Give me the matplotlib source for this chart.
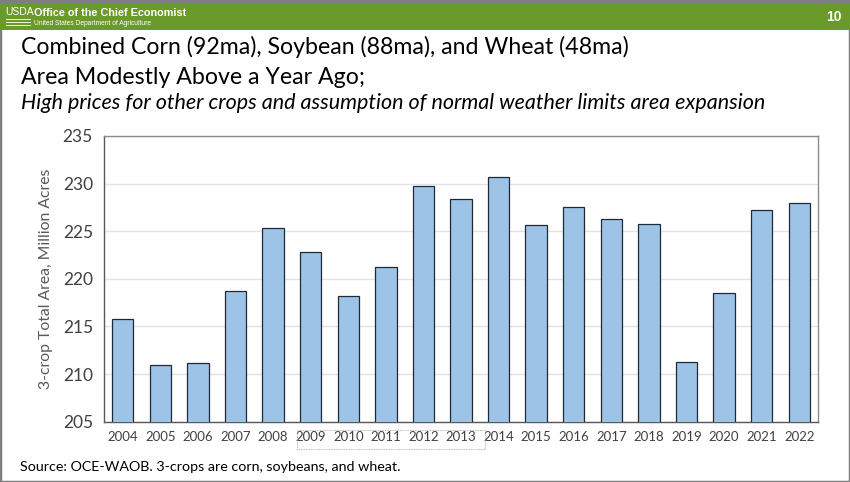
import matplotlib
matplotlib.use("Agg")
import matplotlib.pyplot as plt
from matplotlib.patches import Rectangle

years = ["2004", "2005", "2006", "2007", "2008", "2009", "2010", "2011", "2012", "2013",
         "2014", "2015", "2016", "2017", "2018", "2019", "2020", "2021", "2022"]
area = [215.8, 211.0, 211.2, 218.7, 225.3, 222.8, 218.2, 221.2, 229.7, 228.4,
        230.7, 225.7, 227.5, 226.3, 225.8, 211.3, 218.5, 227.2, 228.0]
yticks = [205, 210, 215, 220, 225, 230, 235]

FONT = "Lato"
plt.rcParams['font.family'] = [FONT, 'DejaVu Sans']

fig = plt.figure(figsize=(8.5, 4.82), dpi=100)
fig.patch.set_facecolor("white")

# frame and header
fig.add_artist(Rectangle((0, 0), 1, 1, transform=fig.transFigure, facecolor="none",
                         edgecolor="#7f7f7f", lw=2.5))
fig.add_artist(Rectangle((0, 1 - 30/482), 1, 27/482, transform=fig.transFigure,
                         facecolor="#6A9A2A", edgecolor="none"))
fig.add_artist(Rectangle((0, 1 - 3/482), 1, 3/482, transform=fig.transFigure,
                         facecolor="#7f7f7f", edgecolor="none"))
fig.text(5/850, 1 - 12/482, "USDA", color="white", fontsize=7.5, va="center", ha="left",
         family=["Liberation Sans Narrow", "Liberation Sans"])
for yy in (20, 23, 26):
    fig.add_artist(Rectangle((6/850, 1 - yy/482), 25/850, 1/482, transform=fig.transFigure,
                             facecolor="white", edgecolor="none", alpha=0.85))
fig.text(34/850, 1 - 13.5/482, "Office of the Chief Economist", color="white", fontsize=7.8,
         fontweight="bold", va="center", ha="left", family="Liberation Sans")
fig.text(34/850, 1 - 23.5/482, "United States Department of Agriculture", color="white",
         fontsize=4.8, va="center", ha="left", family="Liberation Sans")
fig.text(842/850, 1 - 17/482, "10", color="white", fontsize=10, fontweight="bold",
         va="center", ha="right", family="Liberation Sans")

fig.text(21/850, 1 - 47/482, "Combined Corn (92ma), Soybean (88ma), and Wheat (48ma)",
         fontsize=16.7, va="center", ha="left", color="black")
fig.text(21/850, 1 - 77/482, "Area Modestly Above a Year Ago;",
         fontsize=16.7, va="center", ha="left", color="black")
fig.text(21/850, 1 - 103/482,
         "High prices for other crops and assumption of normal weather limits area expansion",
         fontsize=15.5, style="italic", va="center", ha="left", color="black")

ax = fig.add_axes([104/850, 1 - 421.7/482, (818 - 104)/850, (421.7 - 136)/482])
x = list(range(len(years)))
ax.bar(x, area, width=0.57, color="#9DC3E6", edgecolor="#1f2a36", linewidth=0.9, zorder=3)
ax.set_xlim(-0.5, len(years) - 0.5)
ax.set_ylim(205, 235)
ax.set_yticks(yticks)
ax.set_yticklabels([str(v) for v in yticks], fontsize=12.5, color="#404040")
ax.set_xticks(x)
ax.set_xticklabels(years, fontsize=9.5, color="#404040")
ax.tick_params(axis="both", length=0, pad=8)
ax.tick_params(axis="x", pad=7)
ax.grid(axis="y", color="#e3e3e3", lw=1, zorder=0)
for s in ["top", "right"]:
    ax.spines[s].set_color("#8c8c8c")
    ax.spines[s].set_linewidth(1.0)
for s in ["left", "bottom"]:
    ax.spines[s].set_color("#595959")
    ax.spines[s].set_linewidth(1.0)
ax.set_ylabel("3-crop Total Area, Million Acres", fontsize=11.3, color="#595959", labelpad=7)

# dotted selection box around some tick labels
fig.add_artist(Rectangle((297/850, 1 - 449/482), (485 - 297)/850, 19/482, transform=fig.transFigure,
                         facecolor="none", edgecolor="#a0a0a0", lw=0.6, ls=(0, (1, 1))))

fig.text(20/850, 1 - 467/482, "Source: OCE-WAOB. 3-crops are corn, soybeans, and wheat.",
         fontsize=10.3, va="center", ha="left", color="black")

fig.savefig("out.png", dpi=100)
